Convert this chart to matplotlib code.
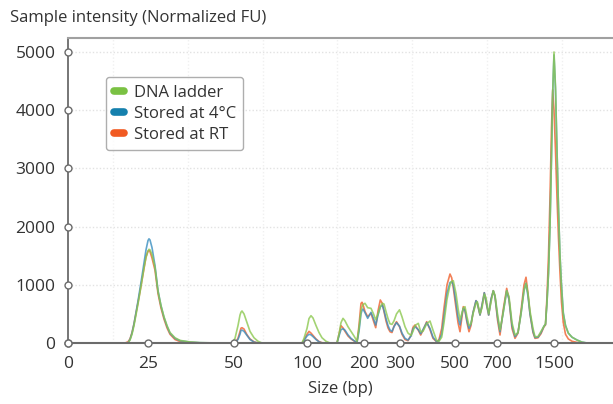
import matplotlib
matplotlib.use('Agg')
from matplotlib import pyplot as plt
from matplotlib.lines import Line2D

plt.rcParams['font.family'] = ['Open Sans', 'DejaVu Sans']

# ladder: size labels and their position along the run (arbitrary migration units)
ladder_bp = ['0', '25', '50', '100', '200', '300', '500', '700', '1500']
ladder_pos = [68, 148, 234, 307, 364, 400, 455, 497, 554]

y_ticks = [0, 1000, 2000, 3000, 4000, 5000]

pos = [110, 125, 128, 130, 132, 134, 136, 138, 140, 142, 144, 146, 148, 149, 150, 152,
       155, 158, 161, 164, 167, 170, 175, 180, 190, 200, 220,
       232, 235, 238, 240, 241, 242, 244, 247, 250, 254, 258, 262, 280,
       300, 302, 304, 307, 309, 311, 313, 316, 319, 322, 326, 330,
       337, 339, 341, 343, 345, 348, 351, 354, 357,
       359, 361, 362, 363, 365, 367.7, 371, 373.5, 375.7, 378, 380.3, 382.3, 384, 386, 388, 390,
       392, 394, 396.5, 399.5, 402, 405, 408, 411, 413, 415, 418.3, 420.7, 423, 426.7, 430, 433,
       436.7, 439, 441.7, 444, 447, 450, 451.7, 453.3, 456, 458, 460, 462, 463.3, 465, 467, 469,
       471, 473, 476, 477.3, 480, 482, 484.3, 486, 488.7, 491, 493.3, 495, 497.5, 500,
       503, 506.7, 509, 512, 515, 518, 521, 524, 526, 528, 530, 533, 535, 538, 541, 544, 545.5,
       547, 548.5, 550, 551.5, 552.7, 554, 555.5, 557, 558.5, 560, 561.5, 563.3, 565.5, 568.3,
       572, 577, 582, 587, 613]

dna_ladder = [0, 0, 0, 50, 150, 300, 480, 670, 870, 1080, 1290, 1470, 1580, 1610, 1600, 1520,
              1300, 890, 640, 450, 300, 180, 90, 45, 18, 6, 0,
              0, 80, 300, 480, 530, 550, 500, 350, 200, 90, 30, 0, 0,
              0, 0, 80, 250, 420, 469, 430, 300, 180, 90, 30, 0,
              0, 150, 350, 424, 380, 280, 200, 120, 30,
              250, 550, 620, 660, 682, 606, 596, 500, 400, 500, 620, 682, 670, 540, 420, 330,
              320, 380, 500, 570, 450, 280, 170, 130, 200, 300, 338, 194, 200, 330, 378, 220,
              40, 30, 100, 350, 750, 1000, 1060, 1070, 850, 600, 395, 520, 600, 624, 450, 300,
              330, 500, 680, 710, 500, 600, 840, 780, 500, 700, 898, 820, 500, 223,
              500, 898, 800, 350, 137, 180, 500, 900, 1025, 850, 550, 250, 108, 110, 200, 290, 330,
              700, 1200, 2000, 3200, 4300, 5000, 4400, 3300, 2300, 1500, 950, 500, 300, 170,
              100, 50, 15, 0, 0]

stored_4c = [0, 0, 0, 60, 170, 330, 520, 720, 930, 1150, 1380, 1600, 1760, 1790, 1770, 1640,
             1330, 900, 640, 440, 290, 170, 80, 40, 15, 5, 0,
             0, 0, 60, 150, 215, 223, 200, 130, 60, 15, 0, 0, 0,
             0, 0, 40, 120, 150, 140, 110, 60, 20, 0, 0, 0,
             0, 120, 230, 245, 220, 140, 80, 40, 10,
             200, 500, 560, 584, 520, 424, 527, 420, 309, 480, 620, 653, 560, 420, 300, 223,
             200, 280, 350, 290, 170, 80, 50, 120, 240, 280, 230, 160, 230, 350, 250, 100,
             22, 40, 150, 450, 850, 1040, 1053, 1000, 700, 450, 309, 500, 596, 560, 380, 252,
             330, 520, 727, 690, 481, 650, 864, 720, 481, 750, 898, 800, 450, 194,
             500, 898, 750, 300, 110, 180, 500, 900, 1025, 800, 500, 200, 95, 100, 180, 290, 320,
             700, 1200, 2000, 3200, 4300, 4950, 4350, 3300, 2300, 1500, 1000, 520, 300, 170,
             100, 52, 15, 0, 0]

stored_rt = [0, 0, 20, 70, 180, 330, 510, 690, 880, 1080, 1290, 1480, 1580, 1590, 1570, 1460,
             1250, 850, 600, 410, 260, 150, 60, 25, 8, 2, 0,
             0, 0, 80, 200, 255, 263, 240, 140, 70, 20, 0, 0, 0,
             0, 0, 50, 150, 200, 170, 130, 70, 25, 5, 0, 0,
             0, 150, 297, 260, 200, 120, 70, 35, 10,
             300, 680, 700, 660, 540, 452, 510, 380, 263, 550, 739, 680, 540, 380, 260, 194,
             180, 290, 366, 280, 150, 60, 40, 130, 270, 309, 220, 137, 220, 366, 230, 80,
             20, 60, 250, 600, 1000, 1185, 1120, 950, 600, 350, 194, 450, 624, 560, 350, 194,
             300, 520, 727, 680, 481, 650, 864, 700, 481, 750, 898, 800, 400, 137,
             550, 939, 750, 250, 80, 170, 550, 1000, 1130, 850, 500, 180, 80, 90, 160, 280, 310,
             800, 1500, 2500, 3700, 4350, 4000, 3300, 2500, 1800, 1200, 700, 350, 150, 70,
             30, 10, 0, 0, 0]

series_names = ['DNA ladder', 'Stored at 4°C', 'Stored at RT']
line_colors = ['#8cc850', '#3a8fc0', '#f06a3a']
patch_colors = ['#7ac143', '#1580ad', '#f15a22']

text_color = '#333333'
axis_color = '#6b6b6b'

fig = plt.figure(figsize=(6.13, 4.04), dpi=100)
ax = fig.add_axes([68 / 613, 61 / 404, 545 / 613, 305 / 404])

# faint dotted grid
for yv in y_ticks[1:]:
    ax.axhline(yv, color='#e2e2e2', lw=1, ls=(0, (1, 1.5)), zorder=0)
for xv in [113, 188, 263, 337, 412, 487, 562]:
    ax.axvline(xv, color='#f0f0f0', lw=1, ls=(0, (1, 1.5)), zorder=0)

# traces - orange below, green on top; kept under the spines so the baseline stays grey
ax.plot(pos, stored_rt, color=line_colors[2], lw=1.2, alpha=0.85, zorder=2.1)
ax.plot(pos, stored_4c, color=line_colors[1], lw=1.2, alpha=0.8, zorder=2.2)
ax.plot(pos, dna_ladder, color=line_colors[0], lw=1.2, alpha=0.8, zorder=2.3)

ax.set_xlim(68, 613)
ax.set_ylim(0, 5240)

ax.spines['right'].set_visible(False)
ax.spines['top'].set_color('#a0a0a0')
ax.spines['top'].set_linewidth(1.5)
ax.spines['left'].set_color(axis_color)
ax.spines['bottom'].set_color(axis_color)
ax.spines['left'].set_linewidth(1.3)
ax.spines['bottom'].set_linewidth(1.5)

ax.set_xticks(ladder_pos)
ax.set_xticklabels(ladder_bp)
ax.set_yticks(y_ticks)
ax.tick_params(axis='both', length=0, labelsize=12.5, colors=text_color)
ax.tick_params(axis='x', pad=9)
ax.tick_params(axis='y', pad=9)

# little round tick markers sitting on the axes
ax.plot(ladder_pos, [0] * len(ladder_pos), 'o', ms=5, mfc='white', mec=axis_color, mew=1,
        clip_on=False, zorder=6)
ax.plot([68] * len(y_ticks), y_ticks, 'o', ms=5, mfc='white', mec=axis_color, mew=1,
        clip_on=False, zorder=6)

ax.set_xlabel('Size (bp)', fontsize=12, color=text_color, labelpad=7)
fig.text(10 / 613, 1 - 18 / 404, 'Sample intensity (Normalized FU)', fontsize=12,
         color=text_color, ha='left', va='center')

handles = [Line2D([], [], color=c, lw=5.5, solid_capstyle='round') for c in patch_colors]
leg = ax.legend(handles, series_names, loc='upper left', bbox_to_anchor=(0.07, 0.872),
                borderaxespad=0, fontsize=12, frameon=True, fancybox=True,
                handlelength=0.6, handletextpad=0.6, labelspacing=0.3,
                borderpad=0.45)
leg.get_frame().set_edgecolor('#9a9a9a')
leg.get_frame().set_linewidth(1)
for t in leg.get_texts():
    t.set_color(text_color)

plt.savefig('out.png', dpi=100)
